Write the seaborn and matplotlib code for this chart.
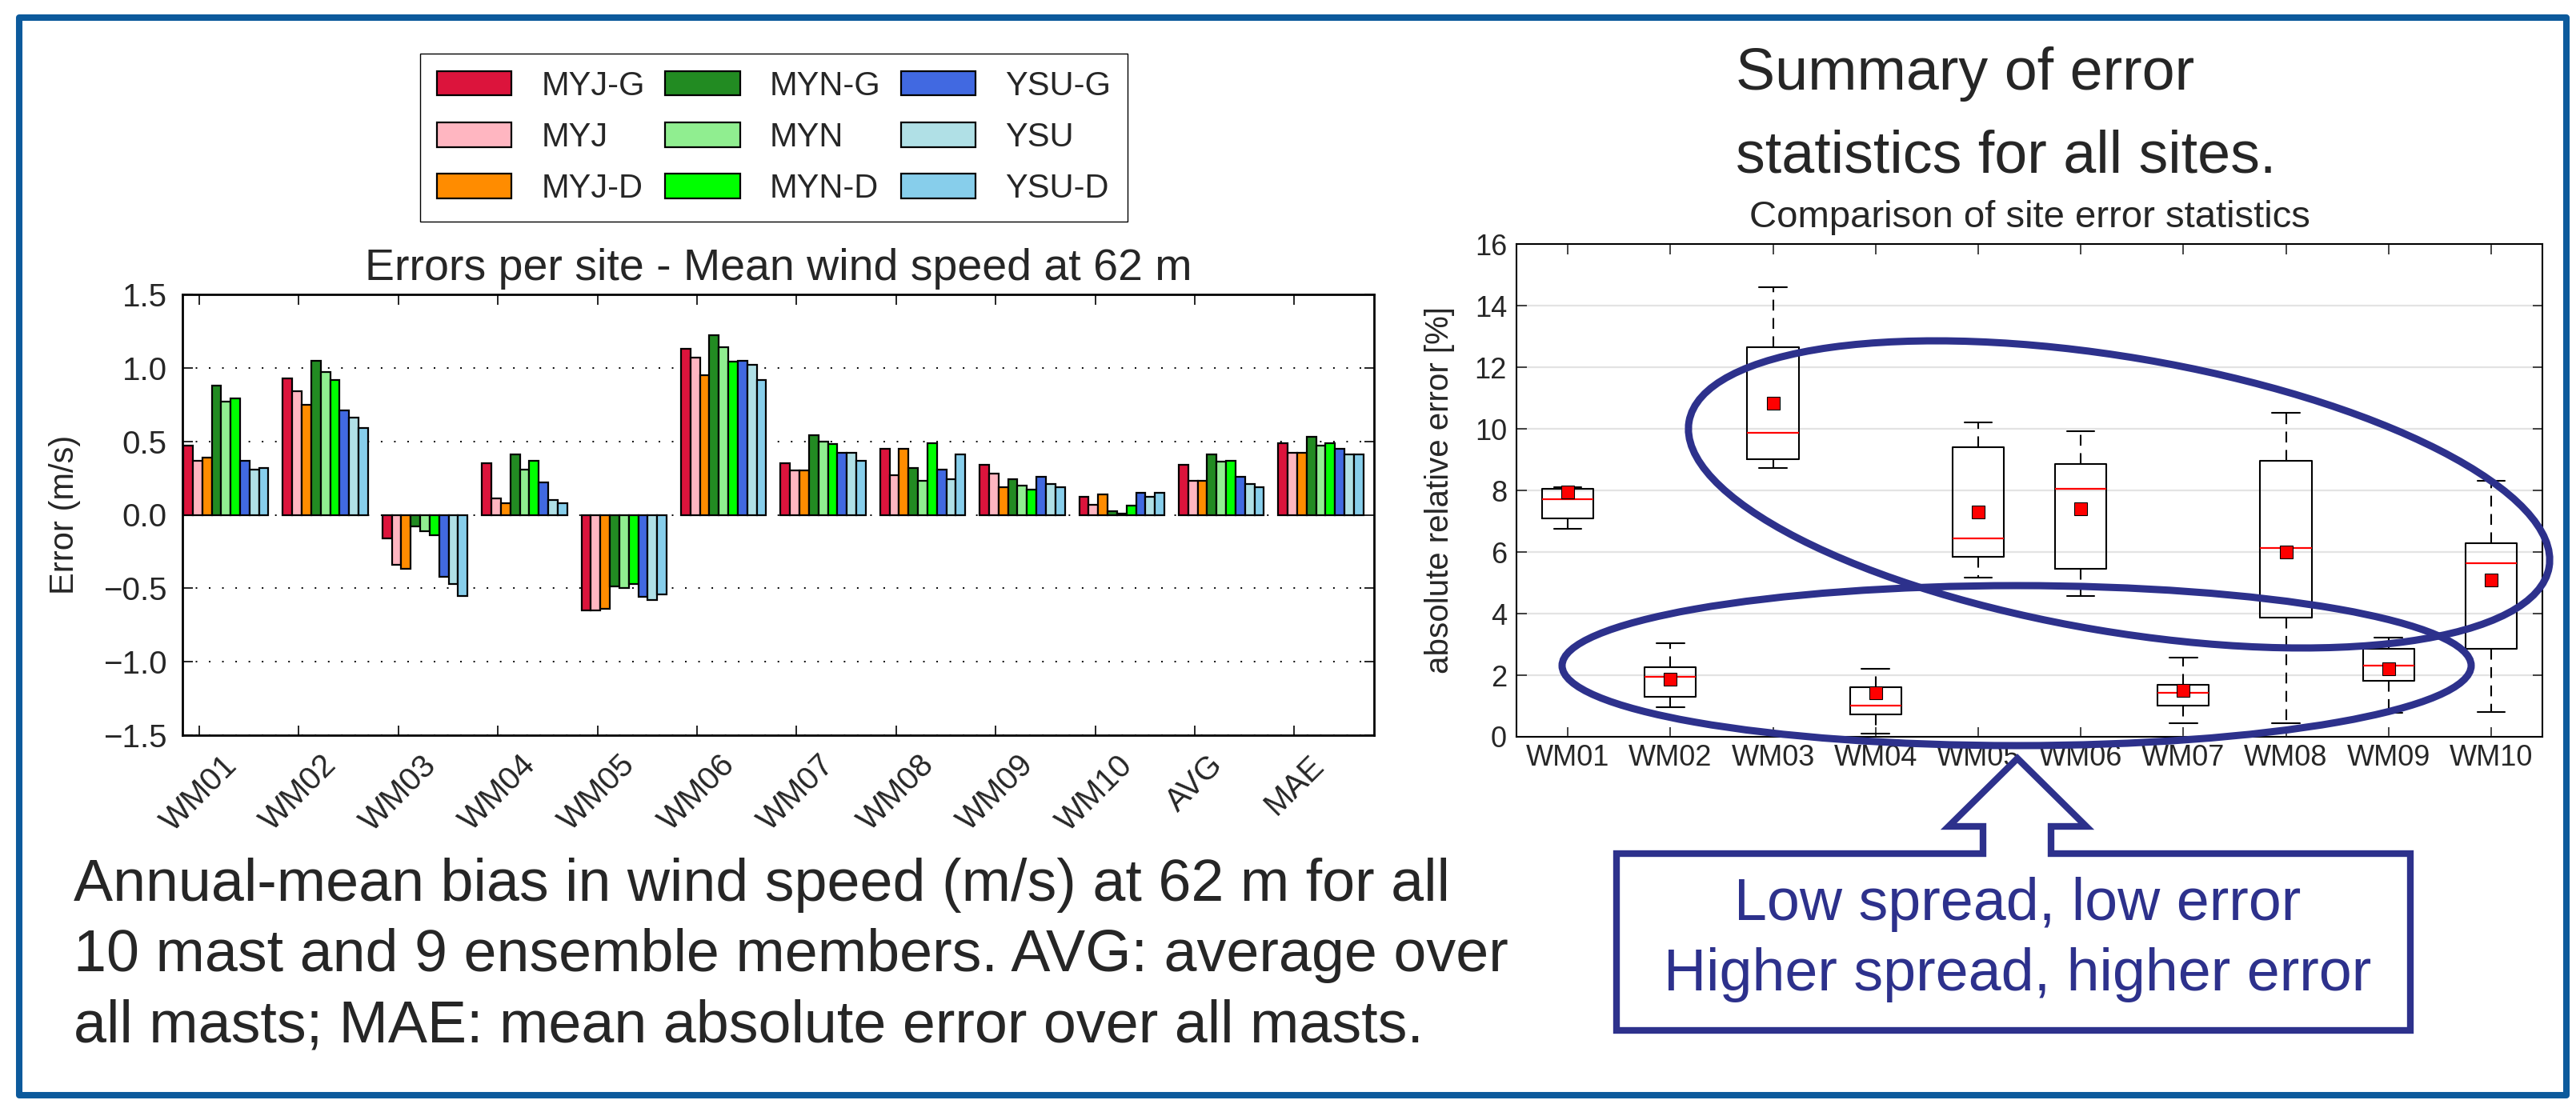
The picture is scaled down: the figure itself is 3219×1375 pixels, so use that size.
import numpy as np
import pandas as pd
import matplotlib
matplotlib.use('Agg')
import matplotlib.pyplot as plt
from matplotlib.patches import Patch, Ellipse, Rectangle, Polygon
import seaborn as sns

# ---- data: left chart (bias per site and ensemble member, m/s)
sites = ['WM01', 'WM02', 'WM03', 'WM04', 'WM05', 'WM06', 'WM07', 'WM08', 'WM09', 'WM10', 'AVG', 'MAE']
members = ['MYJ-G', 'MYJ', 'MYJ-D', 'MYN-G', 'MYN', 'MYN-D', 'YSU-G', 'YSU', 'YSU-D']
member_colors = ['crimson', 'lightpink', 'darkorange', 'forestgreen', 'lightgreen',
                 'lime', 'royalblue', 'powderblue', 'skyblue']

myj_g = [0.47, 0.93, -0.16, 0.35, -0.65, 1.13, 0.35, 0.45, 0.34, 0.12, 0.34, 0.49]
myj = [0.37, 0.84, -0.34, 0.11, -0.65, 1.07, 0.30, 0.27, 0.28, 0.07, 0.23, 0.42]
myj_d = [0.39, 0.75, -0.37, 0.08, -0.64, 0.95, 0.30, 0.45, 0.19, 0.14, 0.23, 0.42]
myn_g = [0.88, 1.05, -0.08, 0.41, -0.49, 1.22, 0.54, 0.32, 0.24, 0.025, 0.41, 0.53]
myn = [0.77, 0.97, -0.11, 0.31, -0.50, 1.14, 0.50, 0.23, 0.20, 0.01, 0.36, 0.47]
myn_d = [0.79, 0.92, -0.14, 0.37, -0.47, 1.04, 0.48, 0.49, 0.17, 0.06, 0.37, 0.49]
ysu_g = [0.37, 0.71, -0.42, 0.22, -0.56, 1.05, 0.42, 0.31, 0.26, 0.15, 0.26, 0.45]
ysu = [0.31, 0.66, -0.47, 0.10, -0.58, 1.02, 0.42, 0.24, 0.21, 0.12, 0.21, 0.41]
ysu_d = [0.32, 0.59, -0.55, 0.08, -0.54, 0.92, 0.37, 0.41, 0.19, 0.15, 0.19, 0.41]
bias = [myj_g, myj, myj_d, myn_g, myn, myn_d, ysu_g, ysu, ysu_d]

# ---- data: right chart (box statistics of absolute relative error, %)
box_sites = ['WM01', 'WM02', 'WM03', 'WM04', 'WM05', 'WM06', 'WM07', 'WM08', 'WM09', 'WM10']
whis_lo = [6.76, 0.97, 8.74, 0.10, 5.16, 4.56, 0.43, 0.43, 0.77, 0.80]
q1 = [7.08, 1.30, 9.01, 0.74, 5.84, 5.46, 1.01, 3.86, 1.81, 2.85]
median = [7.72, 1.94, 9.87, 1.01, 6.43, 8.05, 1.44, 6.12, 2.31, 5.63]
q3 = [8.06, 2.25, 12.66, 1.61, 9.39, 8.86, 1.70, 8.95, 2.85, 6.29]
whis_hi = [8.10, 3.05, 14.59, 2.21, 10.20, 9.92, 2.58, 10.51, 3.21, 8.32]
mean = [7.94, 1.87, 10.83, 1.44, 7.30, 7.39, 1.50, 6.01, 2.21, 5.10]

W, H = 3219, 1375
NAVY = '#2D318C'
FRAME = '#0C5A9C'


def fx(x):
    return x / W


def fy(y):
    return 1 - y / H


def inch(x, y):
    # pixel position (from top-left) to inches from bottom-left
    return x / 100, (H - y) / 100


sns.set_style('ticks')
plt.rcParams['font.family'] = ['Liberation Sans', 'DejaVu Sans']

fig = plt.figure(figsize=(W / 100, H / 100), dpi=100)

# ---------------- left: bar chart
ax1 = fig.add_axes([fx(228), fy(919), 1489 / W, 551 / H])
records = [(s, m, v) for m, vals in zip(members, bias) for s, v in zip(sites, vals)]
df = pd.DataFrame(records, columns=['site', 'member', 'bias'])
sns.barplot(data=df, x='site', y='bias', hue='member', order=sites, hue_order=members,
            palette=member_colors, saturation=1, width=0.855, gap=0,
            edgecolor='black', linewidth=1.6, errorbar=None, legend=False, ax=ax1)
ax1.set_xlim(-0.436, 11.534)
ax1.set_ylim(-1.5, 1.5)
ax1.set_yticks(np.arange(-1.5, 1.51, 0.5))
ax1.set_xticks(np.arange(len(sites)) - 0.267)
ax1.set_xticklabels(sites, rotation=45, ha='center')
ax1.yaxis.grid(True, linestyle=(0, (1, 7.5)), color='k', lw=1.4)
ax1.set_axisbelow(True)
ax1.tick_params(direction='in', length=9, width=1.4, top=True, right=True, labelsize=29)
ax1.tick_params(axis='y', pad=14)
ax1.tick_params(axis='x', pad=13)
ax1.set_xlabel('')
ax1.set_ylabel('Error (m/s)', fontsize=30)
ax1.yaxis.set_label_coords(-0.085, 0.5)
ax1.set_title('Errors per site - Mean wind speed at 62 m', fontsize=40, pad=13)
for sp in ax1.spines.values():
    sp.set_linewidth(2)
    sp.set_color('k')

handles = [Patch(facecolor=c, edgecolor='black', linewidth=1.6) for c in member_colors]
fig.legend(handles, members, loc='upper left', bbox_to_anchor=(fx(525), fy(67)),
           bbox_transform=fig.transFigure, borderaxespad=0, ncol=3, fontsize=30,
           handlelength=2.24, handleheight=0.74, handletextpad=0.9, columnspacing=0.6,
           labelspacing=0.58, borderpad=0.5, frameon=True, fancybox=False,
           edgecolor='black', framealpha=1)

# ---------------- right: box plot
ax2 = fig.add_axes([fx(1895), fy(921), 1282 / W, 616 / H])
stats = [dict(label=s, whislo=a, q1=b, med=c, q3=d, whishi=e, mean=m, fliers=[])
         for s, a, b, c, d, e, m in zip(box_sites, whis_lo, q1, median, q3, whis_hi, mean)]
ax2.bxp(stats, positions=range(1, len(box_sites) + 1), widths=0.5, capwidths=0.27,
        showmeans=True,
        boxprops=dict(color='k', lw=1.5),
        medianprops=dict(color='red', lw=1.6),
        whiskerprops=dict(color='k', lw=1.5, linestyle=(0, (6.5, 4.5))),
        capprops=dict(color='k', lw=1.5),
        meanprops=dict(marker='s', markerfacecolor='red', markeredgecolor='k',
                       markersize=12, markeredgewidth=0.8))
ax2.set_xlim(0.5, 10.5)
ax2.set_ylim(0, 16)
ax2.set_yticks(np.arange(0, 17, 2))
ax2.yaxis.grid(True, color='#e3e3e3', lw=1.6)
ax2.set_axisbelow(True)
ax2.tick_params(direction='in', length=9, width=1.2, top=True, right=True, labelsize=26)
ax2.tick_params(axis='y', pad=8.6)
ax2.tick_params(axis='x', pad=6.5)
ax2.set_ylabel('absolute relative error [%]', fontsize=29)
ax2.yaxis.set_label_coords(-0.06, 0.5)
ax2.set_title('Comparison of site error statistics', fontsize=34, pad=15)
for sp in ax2.spines.values():
    sp.set_linewidth(1.5)
    sp.set_color('k')

# ---------------- slide annotations
fig.text(fx(2169), fy(112), 'Summary of error', fontsize=53, va='baseline')
fig.text(fx(2169), fy(215), 'statistics for all sites.', fontsize=53, va='baseline')

caption = ['Annual-mean bias in wind speed (m/s) at 62 m for all',
           '10 mast and 9 ensemble members. AVG: average over',
           'all masts; MAE: mean absolute error over all masts.']
for i, line in enumerate(caption):
    fig.text(fx(92), fy(1126 + 88 * i), line, fontsize=53, va='baseline')

ell_tr = fig.dpi_scale_trans
fig.add_artist(Ellipse(inch(2648, 618), 10.90, 3.43, angle=-9.6, fill=False,
                       edgecolor=NAVY, lw=6.5, transform=ell_tr, zorder=5))
fig.add_artist(Ellipse(inch(2520, 832), 11.36, 2.0, angle=0, fill=False,
                       edgecolor=NAVY, lw=6.5, transform=ell_tr, zorder=5))

callout = [(2020, 1067), (2478, 1067), (2478, 1033), (2435, 1033), (2521, 948),
           (2607, 1033), (2563, 1033), (2563, 1067), (3012, 1067), (3012, 1288),
           (2020, 1288)]
fig.add_artist(Polygon([inch(x, y) for x, y in callout], closed=True, facecolor='white',
                       edgecolor=NAVY, lw=6, joinstyle='miter', transform=ell_tr, zorder=6))
fig.text(fx(2521), fy(1150), 'Low spread, low error', fontsize=53, color=NAVY,
         ha='center', va='baseline', zorder=7)
fig.text(fx(2521), fy(1238), 'Higher spread, higher error', fontsize=53, color=NAVY,
         ha='center', va='baseline', zorder=7)

# blue slide frame
fig.add_artist(Rectangle(inch(24, 1369), (3207 - 24) / 100, (1369 - 22) / 100, fill=False,
                         edgecolor=FRAME, lw=5.8, joinstyle='round', transform=ell_tr, zorder=8))

fig.savefig('out.png', dpi=100)
